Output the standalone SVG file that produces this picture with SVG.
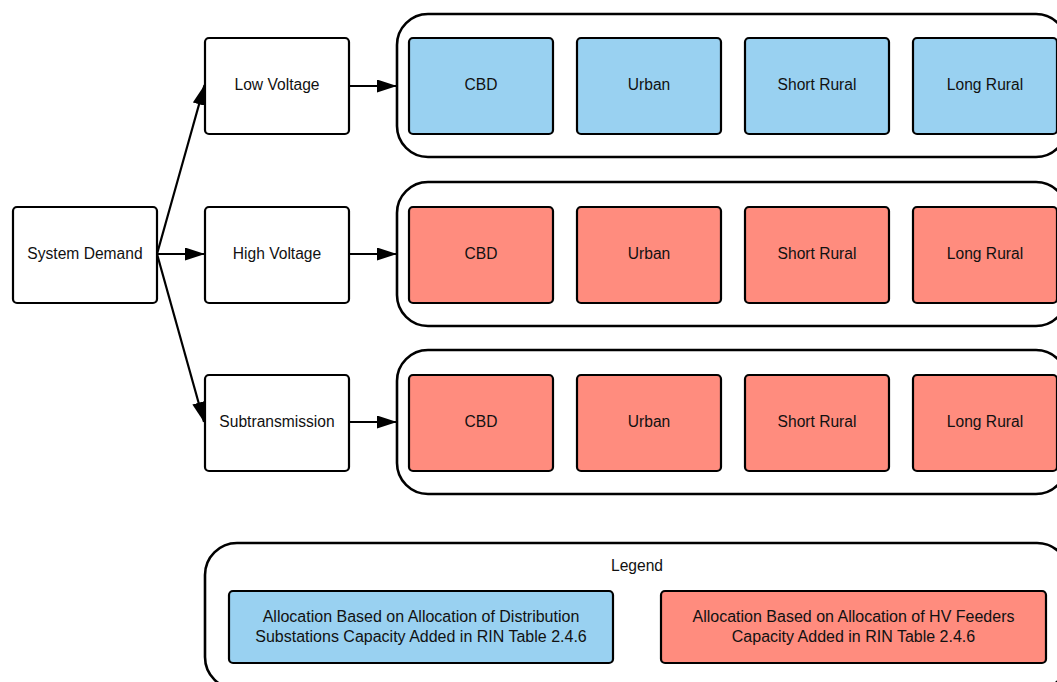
<svg xmlns="http://www.w3.org/2000/svg" width="1057" height="682" viewBox="0 0 1057 682">
<style>
.box{fill:#ffffff;stroke:#000000;stroke-width:2.2}
.blue{fill:#99D1F1;stroke:#000000;stroke-width:2.2}
.red{fill:#FF8C7E;stroke:#000000;stroke-width:2.2}
.cont{fill:#ffffff;stroke:#000000;stroke-width:2.6}
.lbl{font-family:"Liberation Sans",Arial,sans-serif;font-size:15.6px;fill:#111111;text-anchor:middle}
.lg{font-size:16px}
.conn{stroke:#000000;stroke-width:2.2;fill:none;marker-end:url(#arrow)}
</style>
<defs>
<marker id="arrow" markerUnits="userSpaceOnUse" markerWidth="22" markerHeight="14" refX="20" refY="6.5" orient="auto">
<path d="M0,0 L20,6.5 L0,13 z" fill="#000000"/>
</marker>
</defs>

<g id="system-demand"><rect class="box" x="13" y="207" width="144" height="96" rx="4"/><text class="lbl" x="85" y="259">System Demand</text></g>
<g id="low-voltage"><rect class="box" x="205" y="38" width="144" height="96" rx="4"/><text class="lbl" x="277" y="90">Low Voltage</text></g>
<g id="high-voltage"><rect class="box" x="205" y="207" width="144" height="96" rx="4"/><text class="lbl" x="277" y="259">High Voltage</text></g>
<g id="subtransmission"><rect class="box" x="205" y="375" width="144" height="96" rx="4"/><text class="lbl" x="277" y="427">Subtransmission</text></g>

<g id="lv-group">
<rect class="cont" x="397" y="14" width="670" height="143" rx="31"/>
<g id="lv-cbd"><rect class="blue" x="409" y="38" width="144" height="96" rx="4"/><text class="lbl" x="481" y="90">CBD</text></g>
<g id="lv-urban"><rect class="blue" x="577" y="38" width="144" height="96" rx="4"/><text class="lbl" x="649" y="90">Urban</text></g>
<g id="lv-short"><rect class="blue" x="745" y="38" width="144" height="96" rx="4"/><text class="lbl" x="817" y="90">Short Rural</text></g>
<g id="lv-long"><rect class="blue" x="913" y="38" width="144" height="96" rx="4"/><text class="lbl" x="985" y="90">Long Rural</text></g>
</g>

<g id="hv-group">
<rect class="cont" x="397" y="182" width="670" height="144" rx="31"/>
<g id="hv-cbd"><rect class="red" x="409" y="207" width="144" height="96" rx="4"/><text class="lbl" x="481" y="259">CBD</text></g>
<g id="hv-urban"><rect class="red" x="577" y="207" width="144" height="96" rx="4"/><text class="lbl" x="649" y="259">Urban</text></g>
<g id="hv-short"><rect class="red" x="745" y="207" width="144" height="96" rx="4"/><text class="lbl" x="817" y="259">Short Rural</text></g>
<g id="hv-long"><rect class="red" x="913" y="207" width="144" height="96" rx="4"/><text class="lbl" x="985" y="259">Long Rural</text></g>
</g>

<g id="st-group">
<rect class="cont" x="397" y="350" width="670" height="144" rx="31"/>
<g id="st-cbd"><rect class="red" x="409" y="375" width="144" height="96" rx="4"/><text class="lbl" x="481" y="427">CBD</text></g>
<g id="st-urban"><rect class="red" x="577" y="375" width="144" height="96" rx="4"/><text class="lbl" x="649" y="427">Urban</text></g>
<g id="st-short"><rect class="red" x="745" y="375" width="144" height="96" rx="4"/><text class="lbl" x="817" y="427">Short Rural</text></g>
<g id="st-long"><rect class="red" x="913" y="375" width="144" height="96" rx="4"/><text class="lbl" x="985" y="427">Long Rural</text></g>
</g>

<g id="legend">
<rect class="cont" x="205" y="543" width="864" height="146" rx="32"/>
<text class="lbl" x="637" y="571">Legend</text>
<g id="legend-blue"><rect class="blue" x="229" y="591" width="384" height="72" rx="4"/>
<text class="lbl lg" x="421" y="622">Allocation Based on Allocation of Distribution</text>
<text class="lbl lg" x="421" y="641.5">Substations Capacity Added in RIN Table 2.4.6</text></g>
<g id="legend-red"><rect class="red" x="661" y="591" width="385" height="72" rx="4"/>
<text class="lbl lg" x="853.5" y="622">Allocation Based on Allocation of HV Feeders</text>
<text class="lbl lg" x="853.5" y="641.5">Capacity Added in RIN Table 2.4.6</text></g>
</g>

<g id="connectors">
<line class="conn" x1="157" y1="254" x2="204.5" y2="85"/>
<line class="conn" x1="157" y1="254" x2="205" y2="254"/>
<line class="conn" x1="157" y1="254" x2="204" y2="422"/>
<line class="conn" x1="349" y1="86" x2="397" y2="86"/>
<line class="conn" x1="349" y1="254" x2="397" y2="254"/>
<line class="conn" x1="349" y1="422" x2="397" y2="422"/>
</g>
</svg>
